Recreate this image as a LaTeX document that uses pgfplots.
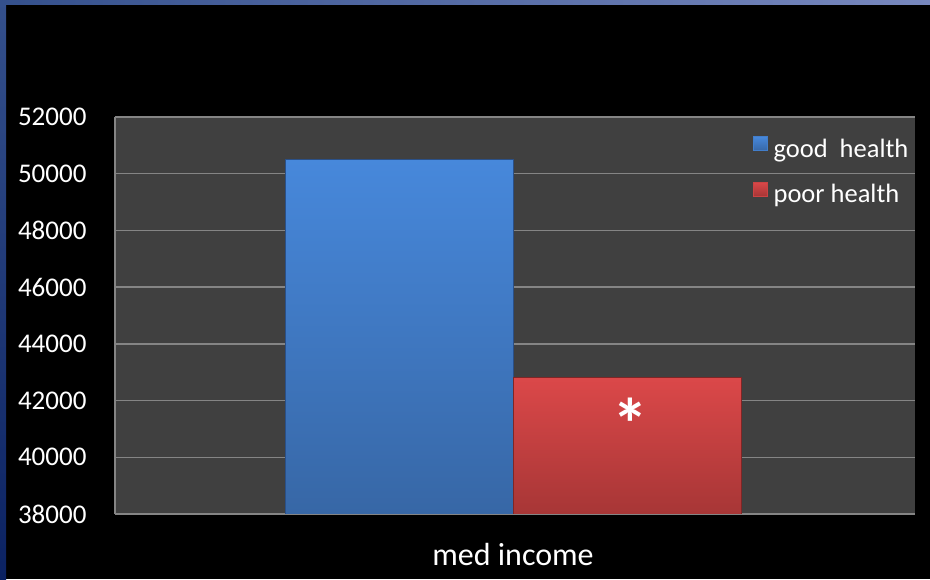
\documentclass[border=0pt]{standalone}
\usepackage{pgfplots}
\pgfplotsset{compat=1.18}
\usepackage{fontspec}
\setmainfont{Carlito}
\definecolor{plotbg}{HTML}{404040}
\definecolor{gridgray}{HTML}{858585}
\definecolor{bluetop}{HTML}{4788DB}
\definecolor{bluebot}{HTML}{3767A6}
\definecolor{blueedge}{HTML}{2A5088}
\definecolor{redtop}{HTML}{DB4849}
\definecolor{redbot}{HTML}{A73636}
\definecolor{rededge}{HTML}{7E2626}
\definecolor{frameA}{HTML}{34508C}
\definecolor{frameB}{HTML}{7888BE}
\definecolor{frameC}{HTML}{0B2262}
\begin{document}
\begin{tikzpicture}[x=1pt,y=1pt]
\fill[black] (0,0) rectangle (930,579);
\shade[left color=frameA, right color=frameB] (0,574) rectangle (930,579);
\shade[top color=frameA, bottom color=frameC] (0,0) rectangle (6,579);
\begin{axis}[
  at={(115pt,65pt)}, anchor=south west,
  width=800pt, height=397pt, scale only axis,
  xmin=-1, xmax=1, ymin=38000, ymax=52000,
  ytick={38000,40000,...,52000},
  xtick=\empty,
  scaled y ticks=false,
  /pgf/number format/1000 sep={},
  /pgf/number format/assume math mode=true,
  axis background/.style={fill=plotbg},
  axis x line*=bottom, axis y line*=left,
  axis line style={draw=gridgray, line width=1.5pt, -},
  ymajorgrids, grid style={draw=gridgray, line width=1.5pt},
  major tick length=0pt,
  yticklabel style={text=white, font=\fontsize{27}{27}\selectfont, xshift=-25pt},
  ybar, bar width=0.57, bar shift=0,
  legend style={at={(axis description cs:0.797,0.952)}, anchor=north west,
    draw=none, fill=none, text=white, font=\fontsize{26.5}{26.5}\selectfont,
    row sep=21pt, inner sep=0pt,
    nodes={inner sep=2pt},
    /tikz/every even column/.append style={column sep=0pt}},
  legend cell align=left,
]
\addplot[top color=bluetop, bottom color=bluebot, draw=blueedge, line width=0.8pt,
  legend image code/.code={\fill[bluetop!70!bluebot] (0pt,-2pt) rectangle (14pt,12pt);}]
  coordinates {(-0.29,50500)};
\addlegendentry{\hspace{4pt}good\ \ health}
\addplot[top color=redtop, bottom color=redbot, draw=rededge, line width=0.8pt,
  legend image code/.code={\fill[redtop!70!redbot] (0pt,-2pt) rectangle (14pt,12pt);}]
  coordinates {(0.28,42800)};
\addlegendentry{\hspace{4pt}poor health}
\node[text=white, font=\fontsize{72}{72}\selectfont\bfseries, anchor=base, inner sep=0pt] at (axis cs:0.2875,40257) {*};
\end{axis}
\node[text=white, font=\fontsize{32}{32}\selectfont, anchor=base, inner sep=0pt] at (513,13) {med income};
\end{tikzpicture}
\end{document}
